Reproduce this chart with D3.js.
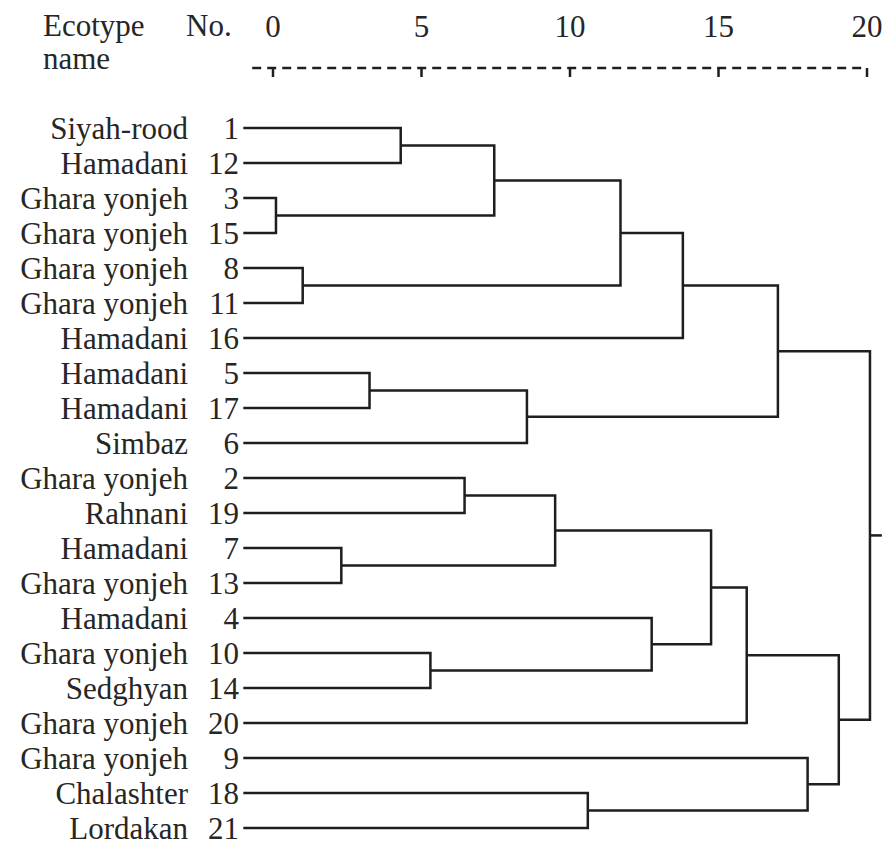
<!DOCTYPE html>
<html>
<head>
<meta charset="utf-8">
<script src="https://cdn.jsdelivr.net/npm/d3@7"></script>
<style>
  html, body { margin: 0; padding: 0; background: #fff; }
  svg { display: block; }
</style>
</head>
<body>
<svg id="chart" width="882" height="846"></svg>
<script>
// ---- Data ----
const leafNames = ["Siyah-rood","Hamadani","Ghara yonjeh","Ghara yonjeh","Ghara yonjeh","Ghara yonjeh","Hamadani",
  "Hamadani","Hamadani","Simbaz","Ghara yonjeh","Rahnani","Hamadani","Ghara yonjeh","Hamadani",
  "Ghara yonjeh","Sedghyan","Ghara yonjeh","Ghara yonjeh","Chalashter","Lordakan"];
const leafNumbers = [1,12,3,15,8,11,16,5,17,6,2,19,7,13,4,10,14,20,9,18,21];
// merges: left child, right child, rescaled distance; children are leaf numbers ("n#") or merge ids ("m#")
const mergeLeft  = ["n3","n8","n7","n5","n1","n10","n2","m4","m3","m6","n18","m7","n4","m11","m9","m14","m13","n9","m15","m16"];
const mergeRight = ["n15","n11","n13","n17","n12","n14","n19","m0","n6","m2","n21","m1","m5","n16","m12","n20","m8","m10","m17","m18"];
const mergeDist  = [0.1,1.0,2.3,3.25,4.3,5.3,6.45,7.45,8.55,9.5,10.6,11.7,12.75,13.8,14.75,15.95,17.0,18.0,19.05,20.1];
const tickValues = [0,5,10,15,20];
const leafStart = -1;     // distance value where leaf lines begin
const rootEnd = 20.5;     // distance where root stub ends

// ---- Scales ----
const x = d3.scaleLinear().domain([0, 20]).range([273, 867]);
const y = d3.scaleLinear().domain([0, leafNumbers.length - 1]).range([128, 828]);

const svg = d3.select("#chart");
const fontSize = 31;
const ink = "#1e1e1e";

function txt(sel) {
  return sel.style("font-family", "\"Liberation Serif\"")
    .style("font-size", fontSize + "px")
    .attr("fill", "#262626");
}

// ---- Header ----
txt(svg.append("text")).attr("x", 43).attr("y", 36).text("Ecotype");
txt(svg.append("text")).attr("x", 43).attr("y", 69).text("name");
txt(svg.append("text")).attr("x", 186).attr("y", 36).text("No.");

// ---- Axis (dashed) ----
const axisY = 68;
svg.append("line")
  .attr("x1", x(-0.7)).attr("x2", x(20))
  .attr("y1", axisY).attr("y2", axisY)
  .attr("stroke", ink).attr("stroke-width", 2.5)
  .attr("stroke-dasharray", "9,6");
svg.selectAll(".tick").data(tickValues).enter().append("line")
  .attr("x1", d => x(d)).attr("x2", d => x(d))
  .attr("y1", axisY).attr("y2", axisY + 9)
  .attr("stroke", ink).attr("stroke-width", 2.5);
txt(svg.selectAll(".tickLabel").data(tickValues).enter().append("text"))
  .attr("x", d => x(d)).attr("y", 37)
  .attr("text-anchor", "middle")
  .text(d => d);

// ---- Leaf labels ----
txt(svg.selectAll(".name").data(leafNames).enter().append("text"))
  .attr("x", 188).attr("y", (d, i) => y(i)).attr("dy", "0.34em")
  .attr("text-anchor", "end")
  .text(d => d);
txt(svg.selectAll(".num").data(leafNumbers).enter().append("text"))
  .attr("x", 239).attr("y", (d, i) => y(i)).attr("dy", "0.34em")
  .attr("text-anchor", "end")
  .text(d => d);

// ---- Dendrogram ----
const nodes = {};
leafNumbers.forEach((n, i) => { nodes["n" + n] = { d: leafStart, yi: i }; });
const paths = [];
mergeDist.forEach((dist, k) => {
  const a = nodes[mergeLeft[k]], b = nodes[mergeRight[k]];
  nodes["m" + k] = { d: dist, yi: (a.yi + b.yi) / 2 };
  paths.push({ a, b, dist });
});

svg.selectAll(".link").data(paths).enter().append("path")
  .attr("d", p => `M${x(p.a.d)},${y(p.a.yi)}H${x(p.dist)}V${y(p.b.yi)}H${x(p.b.d)}`)
  .attr("fill", "none").attr("stroke", ink).attr("stroke-width", 2.5);

const root = nodes["m" + (mergeDist.length - 1)];
svg.append("path")
  .attr("d", `M${x(root.d)},${y(root.yi)}H${x(rootEnd)}`)
  .attr("fill", "none").attr("stroke", ink).attr("stroke-width", 2.5);
</script>
</body>
</html>
